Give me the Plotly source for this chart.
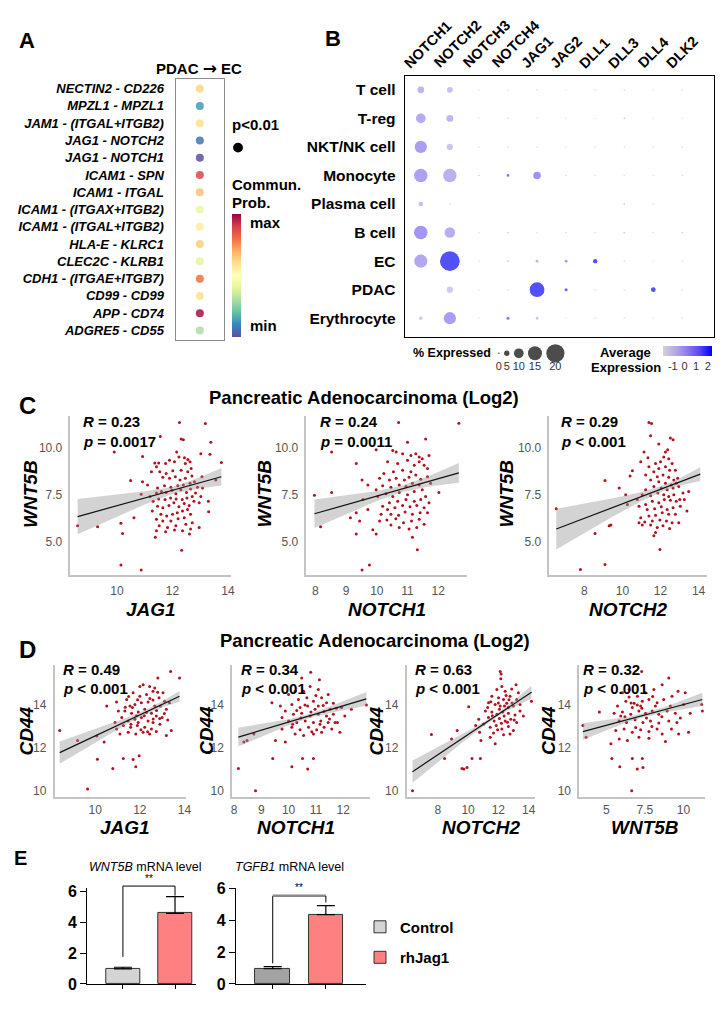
import plotly.graph_objects as go

W, H = 726, 1010
FONT = "Arial, Liberation Sans, sans-serif"
NARROW = "Liberation Sans Narrow, Arial Narrow, Arial, sans-serif"

# ---------------- Panel A data ----------------
A_PAIRS = ["NECTIN2 - CD226", "MPZL1 - MPZL1", "JAM1 - (ITGAL+ITGB2)", "JAG1 - NOTCH2",
           "JAG1 - NOTCH1", "ICAM1 - SPN", "ICAM1 - ITGAL", "ICAM1 - (ITGAX+ITGB2)",
           "ICAM1 - (ITGAL+ITGB2)", "HLA-E - KLRC1", "CLEC2C - KLRB1", "CDH1 - (ITGAE+ITGB7)",
           "CD99 - CD99", "APP - CD74", "ADGRE5 - CD55"]
A_PROB = [0.62, 0.13, 0.60, 0.07, 0.0, 0.88, 0.66, 0.42, 0.56, 0.64, 0.40, 0.80, 0.60, 0.98, 0.30]

# ---------------- Panel B data ----------------
B_GENES = ["NOTCH1", "NOTCH2", "NOTCH3", "NOTCH4", "JAG1", "JAG2", "DLL1", "DLL3", "DLL4", "DLK2"]
B_CELLS = ["T cell", "T-reg", "NKT/NK cell", "Monocyte", "Plasma cell", "B cell", "EC", "PDAC", "Erythrocyte"]
B_PCT = [
    [6.5, 5.3, 0.3, 0.3, 0.4, 0.3, 0.3, 0.4, 0.3, 0.3],
    [10, 6.8, 0.3, 0.3, 0.3, 0.3, 0.3, 0.5, 0.3, 0.3],
    [13, 6, 0.3, 0.4, 0.4, 0.3, 0.4, 0.3, 0.3, 0.4],
    [14.5, 14.5, 0.5, 1.8, 7.5, 0.3, 0.4, 0.3, 0.3, 0.3],
    [4, 0.5, 0, 0, 0, 0, 0, 0.6, 0.4, 0],
    [14.5, 11, 0.3, 0.5, 0.3, 0.3, 0.4, 0.6, 0.4, 0.5],
    [14, 21.8, 0.3, 0.6, 1.8, 1.8, 3.7, 0.4, 0.3, 0.3],
    [0, 6, 0.3, 0.4, 15.9, 2.2, 0.3, 0.3, 4.1, 0.3],
    [3, 13, 0.3, 2.2, 1.8, 0.3, 0.3, 0.3, 0.3, 0.3],
]
B_AVG = [
    [-0.3, -0.6, -1.5, -1.5, -1.4, -1.5, -1.5, -1.3, -1.5, -1.5],
    [0.0, -0.4, -1.5, -1.5, -1.5, -1.5, -1.5, -0.6, -1.5, -1.5],
    [0.4, -0.9, -1.5, -1.4, -1.4, -1.5, -1.4, -1.5, -1.5, -1.3],
    [0.3, -0.2, -1.2, 1.5, 0.7, -1.5, -1.4, -1.5, -1.5, -1.5],
    [-0.6, -1.3, -1.5, -1.5, -1.5, -1.5, -1.5, -0.9, -1.4, -1.5],
    [0.6, -0.1, -1.5, -0.8, -1.5, -1.5, -1.3, -0.8, -1.4, -0.9],
    [0.1, 2.3, -1.5, -0.9, -0.2, 0.6, 2.3, -1.3, -1.5, -1.5],
    [-1.5, -1.0, -1.5, -1.3, 2.3, 1.9, -1.5, -1.5, 2.3, -1.5],
    [-1.2, 0.4, -1.5, 1.4, -0.6, -1.5, -1.5, -1.5, -1.5, -1.5],
]
SIZE_LEGEND = [0, 5, 10, 15, 20]
AVG_TICKS = [-1, 0, 1, 2]

# ---------------- Panel C data (WNT5B vs JAG1 / NOTCH1 / NOTCH2) ----------------
C1_PTS = [(12.25,11.32),(13.18,11.27),(13.38,10.28),(9.9,9.76),(11.56,10.59),(12.31,10.45),(12.39,10.41),
  (10.92,9.53),(13.02,9.67),(13.35,9.64),(13.76,9.2),(10.49,8.25),(10.92,8.19),(10.87,7.53),(10.61,6.28),
  (10.14,5.99),(10.2,5.45),(9.3,5.8),(8.58,5.85),(10.14,3.77),(10.87,3.51),(12.33,4.55),(11.38,5.24),
  (12.61,5.42),(12.96,5.76),(13.3,6.6),(13.29,7.15),(13.08,7.85),(13.06,8.45),(13.56,8.28),
  (11.36,9.18),(11.5,9.18),(11.42,8.98),(11.24,8.72),(11.54,8.72),(11.75,9.15),(11.89,9.32),(12.07,9.24),
  (12.15,9.76),(12.23,9.5),(12.43,9.46),(12.55,9.36),(12.63,9.24),(12.46,9.15),(12.67,8.89),(12.55,8.72),
  (12.31,8.8),(12.01,8.77),(11.77,8.63),(11.65,8.42),(11.89,8.37),(12.1,8.45),(12.27,8.28),(12.46,8.37),
  (12.7,8.49),(12.79,8.19),(12.63,8.11),(12.39,8.02),(12.19,7.97),(11.94,7.9),(11.71,7.97),(11.46,7.85),
  (11.42,7.59),(11.6,7.67),(11.77,7.62),(11.98,7.73),(12.12,7.55),(12.3,7.76),(12.5,7.62),(12.65,7.8),
  (12.83,7.59),(12.9,7.9),(12.71,7.41),(12.52,7.33),(12.35,7.24),(12.13,7.27),(11.93,7.33),(11.73,7.24),
  (11.5,7.27),(11.3,7.15),(11.46,6.89),(11.65,6.81),(11.87,6.93),(12.05,7.07),(12.23,6.86),(12.42,7.03),
  (12.6,6.93),(12.77,7.15),(12.54,6.72),(12.36,6.63),(12.17,6.55),(12.0,6.46),(11.79,6.37),(11.58,6.46),
  (11.42,6.2),(11.65,6.11),(11.94,6.11),(12.2,6.23),(12.42,6.28),(12.65,6.46),(12.71,6.02),(12.48,5.94),
  (12.12,5.85),(11.82,5.76),(11.52,5.85),(11.42,5.59),(11.75,5.54),(12.07,5.63),(12.36,5.59),(12.65,5.68),
  (11.27,6.63),(11.19,7.41),(11.1,8.02),(12.96,7.07),(13.02,7.41)]
C1_FIT_X = [8.58, 10, 11, 12, 13, 13.76]
C1_FIT_Y = [6.34, 6.92, 7.33, 7.73, 8.14, 8.45]
C1_FIT_HW = [0.93, 0.6, 0.35, 0.18, 0.3, 0.46]

C2_PTS = [(10.71,11.32),(12.67,11.28),(8.53,9.76),(9.33,9.15),(9.98,9.88),(11.0,10.28),(11.59,10.45),
  (7.97,7.47),(8.53,7.62),(8.17,5.8),(9.14,6.28),(9.33,5.42),(9.44,6.11),(9.87,5.64),(9.98,5.42),
  (9.52,3.51),(9.76,3.77),(11.32,4.58),(11.16,5.24),(12.02,7.62),(9.52,8.28),(9.71,8.02),(9.55,7.24),
  (9.71,6.72),(9.33,6.55),
  (10.52,9.84),(10.63,9.76),(10.84,9.67),(11.11,9.58),(11.27,9.67),(11.38,9.5),(11.48,9.41),(11.7,9.58),
  (10.35,9.24),(10.68,9.15),(11.0,9.32),(11.22,9.06),(11.38,9.24),(11.54,9.06),(11.65,8.89),(11.11,8.72),
  (10.84,8.8),(10.54,8.72),(10.23,8.63),(10.09,8.37),(10.41,8.28),(10.63,8.37),(10.9,8.28),(11.05,8.42),
  (11.27,8.54),(11.43,8.32),(11.38,8.02),(11.16,8.11),(10.95,7.93),(10.73,8.02),(10.46,7.9),(10.19,7.97),
  (9.98,7.76),(10.03,7.41),(10.3,7.55),(10.52,7.41),(10.73,7.62),(11.0,7.5),(11.22,7.67),(11.48,7.76),
  (11.59,7.41),(11.43,7.24),(11.22,7.15),(10.95,7.24),(10.68,7.15),(10.41,7.07),(10.19,6.89),(10.35,6.72),
  (10.59,6.81),(10.84,6.93),(11.08,6.86),(11.3,6.93),(11.54,6.81),(11.41,6.55),(11.16,6.46),(10.92,6.58),
  (10.71,6.41),(10.46,6.46),(10.14,6.46),(10.09,6.11),(10.33,6.16),(10.62,6.23),(10.87,6.02),(11.13,6.11),
  (11.38,6.2),(11.54,5.94),(11.3,5.76),(11.05,5.68),(10.73,5.76),(10.46,5.89),(11.65,6.55),(11.7,7.07),
  (11.75,8.11),(11.65,8.45)]
C2_FIT_X = [7.97, 9, 10, 10.8, 11.7, 12.67]
C2_FIT_Y = [6.49, 6.97, 7.43, 7.8, 8.21, 8.66]
C2_FIT_HW = [0.75, 0.5, 0.27, 0.17, 0.28, 0.52]

C3_PTS = [(11.39,11.32),(11.53,11.27),(11.48,10.62),(11.91,10.19),(12.52,10.5),(12.66,10.41),(11.13,9.76),
  (9.08,8.25),(10.52,8.77),(10.4,8.49),(6.52,6.75),(8.56,5.45),(9.3,5.85),(9.39,5.89),(7.79,3.54),
  (9.08,3.8),(11.97,4.6),(9.83,7.85),(10.17,7.5),(10.78,7.24),(10.87,6.02),(11.04,5.89),(11.65,5.33),
  (11.74,5.5),(12.96,6.02),(13.39,6.63),(13.48,7.67),(12.96,7.93),(10.26,6.98),
  (12.26,9.76),(12.38,9.88),(12.17,9.5),(12.43,9.41),(12.0,9.24),(11.74,9.15),(12.61,9.15),(11.39,8.98),
  (11.91,8.89),(12.26,8.98),(12.48,8.8),(12.78,8.8),(11.65,8.72),(11.22,8.54),(11.83,8.45),(12.13,8.54),
  (12.43,8.42),(12.7,8.28),(12.9,8.37),(11.48,8.28),(11.91,8.19),(12.26,8.11),(12.56,8.02),(12.83,8.11),
  (11.65,7.93),(12.04,7.85),(12.35,7.76),(12.66,7.85),(11.22,7.76),(11.04,7.5),(11.48,7.45),(11.86,7.59),
  (12.17,7.5),(12.43,7.41),(12.7,7.5),(13.01,7.24),(12.83,7.15),(12.52,7.2),(12.2,7.24),(11.91,7.07),
  (11.57,7.15),(11.22,6.98),(10.87,6.89),(11.3,6.72),(11.69,6.75),(12.04,6.86),(12.35,6.72),(12.66,6.81),
  (13.04,6.89),(12.78,6.46),(12.43,6.46),(12.09,6.55),(11.74,6.41),(11.39,6.37),(10.96,6.28),(11.17,6.06),
  (11.57,6.11),(11.97,6.16),(12.31,6.11),(12.61,6.02),(12.13,5.85),(11.83,5.76),(11.48,5.89),(12.48,5.71),
  (11.34,9.46),(10.96,9.24),(13.18,7.59),(13.25,7.24)]
C3_FIT_X = [6.52, 8, 9.5, 11, 12.2, 13, 14.09]
C3_FIT_Y = [5.68, 6.25, 6.83, 7.4, 7.86, 8.17, 8.59]
C3_FIT_HW = [1.08, 0.78, 0.48, 0.24, 0.15, 0.2, 0.36]

# ---------------- Panel D data (CD44 vs JAG1 / NOTCH1 / NOTCH2 / WNT5B) ----------------
D1_PTS = [(8.41,12.81),(9.66,10.08),(9.21,12.35),(10.07,12.55),(10.1,11.47),(10.79,11.04),(11.26,11.5),
  (11.7,11.46),(11.82,11.12),(10.4,12.27),(10.52,13.95),(10.96,14.14),(13.38,15.56),(13.78,15.26),
  (12.81,15.26),(11.97,11.63),(13.19,12.58),(13.41,12.81),
  (12.15,14.95),(12.44,14.87),(12.67,14.8),(11.7,14.57),(12.0,14.41),(12.3,14.49),(12.59,14.64),(12.86,14.34),
  (13.11,14.18),(11.41,14.26),(11.56,13.95),(11.78,14.03),(12.07,14.11),(12.37,14.14),(12.67,13.95),
  (12.92,13.95),(11.33,13.72),(11.63,13.62),(11.93,13.68),(12.22,13.8),(12.52,13.62),(12.74,13.49),
  (13.0,13.42),(11.19,13.42),(11.48,13.26),(11.78,13.34),(12.07,13.42),(12.37,13.26),(12.59,13.19),
  (12.89,13.37),(11.26,13.04),(11.59,12.96),(11.89,13.04),(12.22,12.96),(12.52,12.88),(12.74,12.76),
  (10.96,12.88),(11.11,12.65),(11.48,12.73),(11.82,12.65),(12.15,12.73),(12.44,12.65),(11.04,13.72),
  (10.89,13.19),(13.19,13.8),(13.33,14.11),(13.04,14.57),(12.0,14.87),(12.3,13.65),(11.67,13.88),
  (12.59,14.23),(11.93,13.19),(11.5,14.4),(12.8,14.6),(11.9,14.25),(12.45,14.3),(12.2,13.5),(11.6,13.1),
  (12.9,13.1),(13.1,13.6),(12.6,13.35),(11.35,13.9),(12.05,12.85),(12.75,13.75),(11.85,13.5),(12.35,12.75),
  (13.25,13.3)]
D1_FIT_X = [8.41, 9.5, 10.5, 11.5, 12.2, 13, 13.78]
D1_FIT_Y = [11.78, 12.31, 12.8, 13.3, 13.64, 14.03, 14.41]
D1_FIT_HW = [0.52, 0.38, 0.25, 0.14, 0.1, 0.15, 0.25]

D2_PTS = [(8.16,11.04),(8.79,10.0),(8.48,12.35),(8.73,12.65),(8.36,12.27),(9.42,11.5),(10.12,11.12),
  (10.51,11.5),(10.7,11.01),(10.91,11.5),(9.52,12.35),(9.88,12.27),(9.39,14.11),(10.81,15.53),(11.13,15.18),
  (12.85,14.0),(11.94,13.88),(11.79,13.19),(11.88,12.73),(9.76,13.42),
  (10.48,15.26),(10.79,14.87),(11.09,14.72),(10.24,14.64),(10.0,14.49),(10.36,14.26),(10.67,14.34),
  (10.91,14.18),(11.21,14.34),(11.45,14.49),(10.12,14.03),(10.42,13.88),(10.7,13.95),(10.97,13.8),
  (11.27,13.98),(11.52,13.8),(11.64,14.08),(9.88,13.72),(10.18,13.57),(10.48,13.62),(10.79,13.49),
  (11.09,13.57),(11.39,13.49),(11.64,13.57),(10.0,13.26),(10.3,13.19),(10.61,13.26),(10.91,13.19),
  (11.18,13.26),(11.45,13.19),(10.12,12.96),(10.42,12.85),(10.73,12.96),(11.03,12.85),(11.3,12.96),
  (11.58,12.88),(10.24,12.65),(10.55,12.58),(10.91,12.65),(11.21,12.73),(9.76,12.88),(9.7,13.95),
  (11.09,13.95),(10.55,14.64),(11.39,14.11),(10.82,13.68),(11.7,13.19),(12.06,13.49),(12.3,13.8),
  (10.6,14.0),(11.0,14.45),(10.3,13.75),(11.15,13.1),(10.85,12.75),(11.5,13.35),(10.45,13.4),(11.3,13.7),
  (10.15,13.1),(11.75,13.85)]
D2_FIT_X = [8.16, 9, 10, 10.8, 11.7, 12.85]
D2_FIT_Y = [12.5, 12.82, 13.2, 13.51, 13.85, 14.29]
D2_FIT_HW = [0.44, 0.3, 0.14, 0.1, 0.17, 0.32]

D3_PTS = [(6.33,10.0),(7.58,12.62),(8.45,11.5),(9.28,12.81),(8.91,12.42),(9.72,11.01),(9.93,11.08),
  (9.6,11.04),(10.26,11.5),(10.81,11.5),(10.04,13.92),(10.85,12.35),(10.5,13.04),(12.12,15.56),
  (12.18,15.45),(12.16,15.23),(13.17,14.95),(14.19,14.18),(11.79,12.19),(11.46,12.5),
  (11.9,14.72),(12.45,14.64),(12.88,14.75),(11.57,14.41),(12.01,14.34),(12.34,14.26),(12.77,14.41),
  (13.21,14.26),(11.35,14.11),(11.79,14.03),(12.12,13.95),(12.55,14.08),(12.99,13.95),(13.43,14.03),
  (11.14,13.72),(11.57,13.68),(11.9,13.57),(12.29,13.68),(12.66,13.62),(13.1,13.53),(11.35,13.42),
  (11.72,13.26),(12.07,13.37),(12.45,13.26),(12.82,13.34),(13.21,13.19),(11.03,13.11),(11.46,12.96),
  (11.86,13.04),(12.23,12.88),(12.66,13.0),(12.99,12.81),(11.68,12.7),(12.34,12.61),(12.77,12.65),
  (10.76,12.73),(10.7,13.34),(13.43,13.72),(13.65,13.49),(13.32,14.57),(12.66,13.88),(12.07,13.8),
  (12.38,13.49),(11.29,13.88),(12.51,14.44),(12.23,14.87),(12.0,14.1),(12.6,13.2),(11.6,13.5),
  (12.9,14.1),(11.95,12.85),(12.4,13.95),(13.05,13.3),(11.5,14.15),(12.2,13.15),(12.7,14.25)]
D3_FIT_X = [6.33, 8, 9.5, 11, 12, 13, 14.19]
D3_FIT_Y = [10.89, 11.68, 12.39, 13.1, 13.57, 14.04, 14.6]
D3_FIT_HW = [0.52, 0.35, 0.21, 0.1, 0.08, 0.15, 0.3]

D4_PTS = [(3.47,13.04),(3.68,12.5),(4.54,13.68),(5.35,11.5),(5.87,11.12),(6.68,11.5),(7.33,11.5),
  (7.0,11.01),(7.37,11.08),(6.64,10.0),(7.29,15.56),(9.05,15.26),(8.62,14.95),(9.65,14.64),(10.12,14.57),
  (11.23,13.72),(11.19,14.03),(9.69,12.65),(10.33,12.73),(8.83,12.3),(5.29,12.19),
  (6.04,14.57),(6.47,14.72),(7.01,14.41),(7.54,14.57),(8.08,14.72),(7.76,14.26),(7.33,14.18),(6.8,14.08),
  (6.26,14.18),(5.72,13.95),(8.29,14.11),(8.72,14.26),(9.26,14.41),(10.01,14.03),(5.5,13.62),(6.04,13.68),
  (6.58,13.57),(7.11,13.72),(7.54,13.62),(7.97,13.72),(8.4,13.57),(8.94,13.72),(9.47,13.62),(10.44,13.62),
  (5.83,13.26),(6.3,13.19),(6.86,13.31),(7.37,13.19),(7.86,13.26),(8.4,13.16),(9.05,13.26),(9.58,13.19),
  (5.61,12.81),(6.15,12.88),(6.68,12.73),(7.22,12.85),(7.76,12.76),(8.29,12.88),(5.83,12.42),(6.36,12.35),
  (7.11,12.5),(7.76,12.45),(8.62,12.65),(6.68,13.88),(7.22,13.95),(8.18,13.95),(6.47,14.38),(9.15,13.95),
  (5.93,13.49),(9.22,12.88),(7.0,14.0),(7.6,13.4),(6.9,12.95),(8.6,13.45),(7.3,13.85),(6.2,13.45),
  (8.0,14.4),(7.95,13.0),(6.6,14.1),(9.8,13.4)]
D4_FIT_X = [3.47, 5, 6.5, 7.5, 8.8, 10, 11.23]
D4_FIT_Y = [12.76, 13.06, 13.35, 13.54, 13.79, 14.02, 14.26]
D4_FIT_HW = [0.39, 0.24, 0.12, 0.1, 0.13, 0.21, 0.31]

STATS_C = [("0.23", "= 0.0017"), ("0.24", "= 0.0011"), ("0.29", "&lt; 0.001")]
STATS_D = [("0.49", "&lt; 0.001"), ("0.34", "&lt; 0.001"), ("0.63", "&lt; 0.001"), ("0.32", "&lt; 0.001")]

# ---------------- Panel E data ----------------
E_GROUPS = ["Control", "rhJag1"]
E1_MEAN = [0.98, 4.56]
E1_ERR = [0.10, 1.08]
E2_MEAN = [0.96, 4.37]
E2_ERR = [0.14, 0.56]
E_TICKS = [0, 2, 4, 6]

# ---------------- helpers ----------------
def xd(a, b):
    return [a / W, b / W]

def yd(top, bottom):
    return [1 - bottom / H, 1 - top / H]

def px(X):
    return X / W

def py(Y):
    return 1 - Y / H

fig = go.Figure()
layout = {}
annotations = []
shapes = []

def ann(text, X, Y, size=12, xanchor="center", yanchor="middle", angle=0, color="black", family=FONT, **kw):
    d = dict(text=text, x=px(X), y=py(Y), xref="paper", yref="paper", showarrow=False,
             xanchor=xanchor, yanchor=yanchor, textangle=angle,
             font=dict(size=size, color=color, family=family))
    d.update(kw)
    annotations.append(d)

# ================= Panel A =================
nA = len(A_PAIRS)
fig.add_trace(go.Scatter(
    x=[0] * nA, y=list(range(nA)), mode="markers", xaxis="x", yaxis="y",
    marker=dict(size=8, color=A_PROB, colorscale="Spectral_r", cmin=0, cmax=1, opacity=0.85,
                showscale=True,
                colorbar=dict(x=px(233), xanchor="left", y=py(210), yanchor="top", len=123,
                              lenmode="pixels", thickness=9, xpad=0, ypad=0, outlinewidth=0,
                              showticklabels=False, ticks="")),
    showlegend=False, hoverinfo="skip"))
layout["xaxis"] = dict(domain=xd(176, 225), anchor="y", range=[-1, 1], showticklabels=False,
                       showgrid=False, zeroline=False, showline=True, mirror=True,
                       linecolor="#8c8c8c", linewidth=1, ticks="")
layout["yaxis"] = dict(domain=yd(72, 338), anchor="x", range=[nA - 0.43, -0.57], tickmode="array",
                       tickvals=list(range(nA)), ticktext=[f"<b><i>{p}</i></b>" for p in A_PAIRS],
                       tickfont=dict(size=13, color="black"), ticklabelstandoff=8, ticks="",
                       showgrid=False, zeroline=False, showline=True, mirror=True,
                       linecolor="#8c8c8c", linewidth=1)
ann("<b>A</b>", 26, 33, 22)
ann('<b>PDAC <span style="font-family:DejaVu Sans;font-size:17px">→</span> EC</b>', 200, 61, 15)
ann("<b>p&lt;0.01</b>", 231, 118, 15, xanchor="left")
shapes.append(dict(type="circle", xref="paper", yref="paper", x0=px(234), x1=px(244),
                   y0=py(147), y1=py(137), fillcolor="black", line=dict(width=0)))
ann("<b>Commun.</b>", 231, 180, 15, xanchor="left")
ann("<b>Prob.</b>", 231, 198, 15, xanchor="left")
ann("<b>max</b>", 249, 218, 15, xanchor="left")
ann("<b>min</b>", 249, 323, 15, xanchor="left")

# ================= Panel B =================
def dot_size(p):
    return 0 if p <= 0 else 1.2 + 0.85 * p

bx, by, bs, bc = [], [], [], []
for j, cell in enumerate(B_CELLS):
    for i, g in enumerate(B_GENES):
        bx.append(i)
        by.append(j)
        bs.append(dot_size(B_PCT[j][i]))
        bc.append(B_AVG[j][i])
B_SCALE = [[0, "#d3d3d3"], [0.25, "#b4a9e6"], [0.5, "#8c78ef"], [0.75, "#5a45f8"], [1, "#0000ff"]]
fig.add_trace(go.Scatter(
    x=bx, y=by, mode="markers", xaxis="x2", yaxis="y2",
    marker=dict(size=bs, color=bc, colorscale=B_SCALE, cmin=-1.8, cmax=2.4, line=dict(width=0),
                showscale=True,
                colorbar=dict(orientation="h", x=px(668), xanchor="left", y=py(344), yanchor="top",
                              len=49, lenmode="pixels", thickness=10, xpad=0, ypad=0, outlinewidth=0,
                              tickvals=AVG_TICKS, ticktext=[str(t) for t in AVG_TICKS], ticks="",
                              tickfont=dict(size=11, color="#333"))),
    showlegend=False, hoverinfo="skip"))
layout["xaxis2"] = dict(domain=xd(407, 719), anchor="y2", range=[-0.556, 10.09], showticklabels=False,
                        showgrid=False, zeroline=False, showline=True, mirror=True,
                        linecolor="black", linewidth=1, ticks="")
layout["yaxis2"] = dict(domain=yd(69, 335), anchor="x2", range=[8.67, -0.49], tickmode="array",
                        tickvals=list(range(len(B_CELLS))), ticktext=[f"<b>{c}</b>" for c in B_CELLS],
                        tickfont=dict(size=15.5, color="black"), ticklabelstandoff=5, ticks="",
                        showgrid=False, zeroline=False, showline=True, mirror=True,
                        linecolor="black", linewidth=1)
for i, g in enumerate(B_GENES):
    annotations.append(dict(text=f"<b>{g}</b>", x=i, xref="x2", y=py(67), yref="paper",
                            showarrow=False, xanchor="left", yanchor="bottom", textangle=-45,
                            xshift=-22, font=dict(size=14.5, color="black", family=FONT)))
ann("<b>B</b>", 335, 31, 22)

# size legend
sz = [max(1.6, dot_size(p)) for p in SIZE_LEGEND]
sx = []
cur = 502.0
for k, d in enumerate(sz):
    if k > 0:
        cur += sz[k - 1] / 2 + 4.5 + d / 2
    sx.append(cur)
fig.add_trace(go.Scatter(x=sx, y=[0.3] * len(sx), mode="markers", xaxis="x3", yaxis="y3",
                         marker=dict(size=sz, color="black", line=dict(width=0)),
                         showlegend=False, hoverinfo="skip", cliponaxis=False))
fig.add_trace(go.Scatter(x=sx, y=[-0.6] * len(sx), mode="text", text=[str(p) for p in SIZE_LEGEND],
                         textfont=dict(size=11, color="#333"), xaxis="x3", yaxis="y3",
                         showlegend=False, hoverinfo="skip", cliponaxis=False))
layout["xaxis3"] = dict(domain=xd(495, 575), anchor="y3", range=[495, 575], visible=False)
layout["yaxis3"] = dict(domain=yd(340, 372), anchor="x3", range=[-1, 1], visible=False)
ann("<b>% Expressed</b>", 455, 351, 12.5)
ann("<b>Average</b>", 630, 350, 13)
ann("<b>Expression</b>", 630, 366, 13)

# ================= Panels C & D =================
AX_LINE = "#c4c4c4"
TICK_FONT = dict(size=12, color="#555", family=NARROW)

def scatter_panel(n, pts, fx, fy, fhw, xdom, ydom, xr, yr, xt, xtt, yt, ytt, xstand=4):
    xa, ya = f"x{n}", f"y{n}"
    fig.add_trace(go.Scatter(x=[p[0] for p in pts], y=[p[1] for p in pts], mode="markers",
                             xaxis=xa, yaxis=ya, marker=dict(size=3, color="#b0121f", line=dict(width=0)),
                             showlegend=False, hoverinfo="skip"))
    lo = [a - b for a, b in zip(fy, fhw)]
    hi = [a + b for a, b in zip(fy, fhw)]
    fig.add_trace(go.Scatter(x=list(fx) + list(fx)[::-1], y=hi + lo[::-1], mode="lines", fill="toself",
                             fillcolor="rgba(150,150,150,0.42)", line=dict(width=0),
                             xaxis=xa, yaxis=ya, showlegend=False, hoverinfo="skip"))
    fig.add_trace(go.Scatter(x=fx, y=fy, mode="lines", line=dict(color="#111", width=1.2),
                             xaxis=xa, yaxis=ya, showlegend=False, hoverinfo="skip"))
    layout[f"xaxis{n}"] = dict(domain=xdom, anchor=ya, range=xr, tickmode="array", tickvals=xt, ticktext=xtt,
                               showline=True, linecolor=AX_LINE, linewidth=1.5, showgrid=False,
                               zeroline=False, ticks="", tickfont=TICK_FONT, ticklabelstandoff=xstand)
    layout[f"yaxis{n}"] = dict(domain=ydom, anchor=xa, range=yr, tickmode="array", tickvals=yt, ticktext=ytt,
                               showline=True, linecolor=AX_LINE, linewidth=1.5, showgrid=False,
                               zeroline=False, ticks="", tickfont=TICK_FONT, ticklabelstandoff=4)

CY = yd(415, 577)
CYR = [3.23, 11.67]
CYT = [5.0, 7.5, 10.0]
CYTT = ["5.0", "7.5", "10.0"]
scatter_panel(4, C1_PTS, C1_FIT_X, C1_FIT_Y, C1_FIT_HW, xd(70, 232), CY, [8.32, 14.11], CYR,
              [10, 12, 14], ["10", "12", "14"], CYT, CYTT)
scatter_panel(5, C2_PTS, C2_FIT_X, C2_FIT_Y, C2_FIT_HW, xd(308, 470), CY, [7.71, 12.94], CYR,
              [8, 9, 10, 11, 12], ["8", "9", "10", "11", "12"], CYT, CYTT)
scatter_panel(6, C3_PTS, C3_FIT_X, C3_FIT_Y, C3_FIT_HW, xd(553, 712), CY, [6.16, 14.45], CYR,
              [8, 10, 12, 14], ["8", "10", "12", "14"], CYT, CYTT)

DY = yd(668, 802)
DYR = [9.73, 15.88]
DYT = [10, 12, 14]
DYTT = ["10", "12", "14"]
scatter_panel(7, D1_PTS, D1_FIT_X, D1_FIT_Y, D1_FIT_HW, xd(54, 187), DY, [8.18, 14.09], DYR,
              [10, 12, 14], ["10", "12", "14"], DYT, DYTT, xstand=1)
scatter_panel(8, D2_PTS, D2_FIT_X, D2_FIT_Y, D2_FIT_HW, xd(233, 372), DY, [7.93, 12.98], DYR,
              [8, 9, 10, 11, 12], ["8", "9", "10", "11", "12"], DYT, DYTT, xstand=1)
scatter_panel(9, D3_PTS, D3_FIT_X, D3_FIT_Y, D3_FIT_HW, xd(409, 538), DY, [5.94, 14.39], DYR,
              [8, 10, 12, 14], ["8", "10", "12", "14"], DYT, DYTT, xstand=1)
scatter_panel(10, D4_PTS, D4_FIT_X, D4_FIT_Y, D4_FIT_HW, xd(583, 710), DY, [3.23, 11.41], DYR,
              [5, 7.5, 10], ["5", "7.5", "10"], DYT, DYTT, xstand=1)

TITLE = "<b>Pancreatic Adenocarcinoma (Log2)</b>"
ann("<b>C</b>", 27, 404, 24)
ann(TITLE, 366, 396, 18.5)
ann("<b>D</b>", 27, 652, 24)
ann(TITLE, 377, 643, 18.5)

# R / p labels
for (r, p), X in zip(STATS_C, [81, 320, 563]):
    ann(f"<b><i>R</i> = {r}</b>", X, 421, 15, xanchor="left")
    ann(f"<b><i>p</i> {p}</b>", X, 441, 15, xanchor="left")
for (r, p), X in zip(STATS_D, [60, 240, 415, 585]):
    ann(f"<b><i>R</i> = {r}</b>", X, 673, 15, xanchor="left")
    ann(f"<b><i>p</i> {p}</b>", X, 692, 15, xanchor="left")

# axis titles
for X in [29.5, 266, 510]:
    ann("<b><i>WNT5B</i></b>", X, 494, 19, angle=-90)
for t, X in zip(["JAG1", "NOTCH1", "NOTCH2"], [151, 389, 633]):
    ann(f"<b><i>{t}</i></b>", X, 612, 19)
for X in [26, 207, 379, 552]:
    ann("<b><i>CD44</i></b>", X, 735, 19, angle=-90)
for t, X in zip(["JAG1", "NOTCH1", "NOTCH2", "WNT5B"], [125, 297, 484, 649]):
    ann(f"<b><i>{t}</i></b>", X, 834, 19)

# ================= Panel E =================
E1_COLORS = ["#d4d4d4", "#ff8080"]
E2_COLORS = ["#a3a3a3", "#ff8080"]
E_PANELS = [
    dict(n=11, mean=E1_MEAN, err=E1_ERR, colors=E1_COLORS, xpx=(87, 197), ypx=(895, 992.7),
         xr=[-0.684, 1.41], yr=[0, 6.2], legend=True),
    dict(n=12, mean=E2_MEAN, err=E2_ERR, colors=E2_COLORS, xpx=(237, 368), ypx=(895, 992.7),
         xr=[-0.69, 1.755], yr=[0, 6.05], legend=False),
]
for P in E_PANELS:
    n = P["n"]
    for k, gname in enumerate(E_GROUPS):
        fig.add_trace(go.Bar(
            x=[k], y=[P["mean"][k]], width=0.65, name=f"<b>{gname}</b>",
            marker=dict(color=P["colors"][k], line=dict(color="#333", width=1)),
            error_y=dict(type="data", array=[P["err"][k]], arrayminus=[0], symmetric=False,
                         thickness=1.2, width=9, color="black"),
            xaxis=f"x{n}", yaxis=f"y{n}", showlegend=P["legend"], legendgroup=gname,
            hoverinfo="skip"))
    layout[f"xaxis{n}"] = dict(domain=xd(*P["xpx"]), anchor=f"y{n}", range=P["xr"], tickmode="array",
                               tickvals=[0, 1], ticktext=["", ""], ticks="outside", ticklen=4,
                               tickcolor="black", tickwidth=1, showline=True, linecolor="black",
                               linewidth=1.3, showgrid=False, zeroline=False)
    layout[f"yaxis{n}"] = dict(domain=yd(*P["ypx"]), anchor=f"x{n}", range=P["yr"], tickmode="array",
                               tickvals=E_TICKS, ticktext=[str(t) for t in E_TICKS],
                               ticks="outside", ticklen=6, tickwidth=1.3, tickcolor="black",
                               showline=True, linecolor="black", linewidth=1.3, showgrid=False,
                               zeroline=False,
                               tickfont=dict(size=16, family=FONT, color="black", weight="bold"))

def e_pt(P, xv, yv):
    x0, x1 = P["xpx"]
    top, bot = P["ypx"]
    X = x0 + (xv - P["xr"][0]) / (P["xr"][1] - P["xr"][0]) * (x1 - x0)
    Y = bot - (yv - P["yr"][0]) / (P["yr"][1] - P["yr"][0]) * (bot - top)
    return px(X), py(Y)

# significance brackets (layout)
BRACKETS = [(E_PANELS[0], 1.75, 6.32, 5.70, "black", 1.0),
            (E_PANELS[1], 1.30, 5.55, 5.14, "#8a8a8a", 2.5)]
for P, lo_left, top, lo_right, topcol, topw in BRACKETS:
    a = e_pt(P, 0, lo_left); b = e_pt(P, 0, top); c = e_pt(P, 1, top); d = e_pt(P, 1, lo_right)
    shapes.append(dict(type="line", xref="paper", yref="paper", x0=a[0], y0=a[1], x1=b[0], y1=b[1],
                       line=dict(color="black", width=1)))
    shapes.append(dict(type="line", xref="paper", yref="paper", x0=b[0], y0=b[1], x1=c[0], y1=c[1],
                       line=dict(color=topcol, width=topw)))
    shapes.append(dict(type="line", xref="paper", yref="paper", x0=c[0], y0=c[1], x1=d[0], y1=d[1],
                       line=dict(color="black", width=1)))
    s = e_pt(P, 0.5, top + 0.5)
    annotations.append(dict(text="**", x=s[0], y=s[1], xref="paper", yref="paper", showarrow=False,
                            xanchor="center", yanchor="middle", font=dict(size=10, color="black", family=FONT)))

ann("<b>E</b>", 20, 865, 20)
ann("<i>WNT5B</i> mRNA level", 146, 874, 12.5)
ann("<i>TGFB1</i> mRNA level", 291, 874, 12.5)

fig.update_layout(
    width=W, height=H, autosize=False,
    margin=dict(l=0, r=0, t=0, b=0, pad=0),
    paper_bgcolor="white", plot_bgcolor="white",
    font=dict(family=FONT, color="black"),
    annotations=annotations, shapes=shapes,
    legend=dict(x=px(362), y=py(918), xanchor="left", yanchor="top", traceorder="grouped",
                tracegroupgap=8, bgcolor="rgba(0,0,0,0)",
                font=dict(size=15, family=NARROW, color="black")),
    bargap=0, **layout)

fig.write_html("out.html")
